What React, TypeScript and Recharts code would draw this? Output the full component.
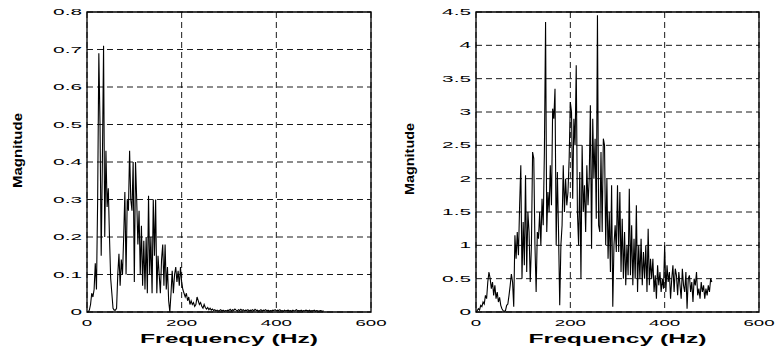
import { LineChart, Line, XAxis, YAxis, CartesianGrid, ReferenceArea } from "recharts";

// FFT bin spacing (Hz) of both spectra
const BIN_HZ = 2.5;

const freqTicks = [0, 200, 400, 600];
const leftMagTicks = [0, 0.1, 0.2, 0.3, 0.4, 0.5, 0.6, 0.7, 0.8];
const rightMagTicks = [0, 0.5, 1, 1.5, 2, 2.5, 3, 3.5, 4, 4.5];

// left spectrum, 0..500 Hz
const leftMag = [
  0, 0, 0.005, 0.02, 0.05, 0.04, 0.06, 0.13, 0.06, 0.3,
  0.69, 0.5, 0.15, 0.4, 0.71, 0.2, 0.43, 0.28, 0.33, 0.2,
  0.09, 0.05, 0.01, 0.005, 0.005, 0.01, 0.1, 0.155, 0.07, 0.14,
  0.1, 0.2, 0.32, 0.1, 0.3, 0.27, 0.43, 0.3, 0.27, 0.4,
  0.08, 0.4, 0.3, 0.18, 0.27, 0.1, 0.23, 0.07, 0.19, 0.06,
  0.2, 0.05, 0.31, 0.1, 0.2, 0.05, 0.3, 0.15, 0.3, 0.05,
  0.15, 0.1, 0.05, 0.14, 0.18, 0.07, 0.18, 0.06, 0.12, 0.03,
  0.0, 0.05, 0.11, 0.05, 0.1, 0.12, 0.08, 0.11, 0.07, 0.12,
  0.08, 0.06, 0.05, 0.04, 0.05, 0.03, 0.04, 0.02, 0.03, 0.02,
  0.025, 0.015, 0.02, 0.04, 0.03, 0.02, 0.025, 0.015, 0.01, 0.02,
  0.012, 0.008, 0.012, 0.006, 0.01, 0.005, 0.008, 0.004, 0.006, 0.003,
  0.005, 0.003, 0.004, 0.006, 0.003, 0.005, 0.002, 0.004, 0.003, 0.005,
  0.004, 0.007, 0.003, 0.006, 0.004, 0.008, 0.005, 0.003, 0.006, 0.004,
  0.007, 0.004, 0.006, 0.003, 0.005, 0.004, 0.006, 0.003, 0.005, 0.004,
  0.006, 0.003, 0.007, 0.004, 0.005, 0.002, 0.004, 0.006, 0.003, 0.005,
  0.004, 0.006, 0.003, 0.005, 0.002, 0.004, 0.003, 0.005, 0.004, 0.006,
  0.003, 0.005, 0.004, 0.006, 0.003, 0.004, 0.002, 0.005, 0.003, 0.004,
  0.005, 0.003, 0.004, 0.002, 0.005, 0.003, 0.004, 0.006, 0.003, 0.004,
  0.003, 0.005, 0.002, 0.004, 0.003, 0.005, 0.004, 0.003, 0.005, 0.002,
  0.004, 0.003, 0.005, 0.002, 0.004, 0.003, 0.002, 0.004, 0.003, 0.002,
  0.003,
];

// right spectrum, 0..500 Hz
const rightMag = [
  0, 0.02, 0.05, 0.03, 0.1, 0.08, 0.15, 0.12, 0.25, 0.2,
  0.45, 0.6, 0.5, 0.35, 0.45, 0.25, 0.4, 0.2, 0.3, 0.15,
  0.22, 0.1, 0.05, 0.02, 0.01, 0.02, 0.1, 0.12, 0.25, 0.4,
  0.57, 0.45, 0.08, 1.15, 0.8, 1.2, 0.85, 1.6, 2.2, 0.5,
  1.35, 0.7, 2.05, 0.6, 1.5, 1.2, 0.45, 1.0, 2.4, 2.3,
  1.0, 0.3, 1.2, 1.1, 1.5, 1.0, 1.7, 1.3, 2.4, 4.35,
  1.2, 1.8, 1.5, 2.2, 1.6, 3.05, 2.9, 3.35, 1.0, 2.1,
  1.2, 0.1, 1.0, 1.3, 2.2, 1.5, 2.0, 1.6, 1.8, 2.3,
  3.15, 3.0, 1.7, 2.9, 2.5, 3.7, 1.5, 1.0, 2.1, 0.5,
  2.5, 1.5, 1.9, 1.2, 2.2, 1.6, 2.0, 3.1, 0.95, 2.9,
  2.0, 2.6, 1.4, 4.45, 1.3, 1.2, 2.4, 1.2, 2.6, 2.5,
  1.0, 2.0, 0.8, 1.5, 0.6, 1.9, 0.08, 1.0, 1.3, 0.9,
  1.9, 0.9, 1.8, 0.6, 1.4, 0.5, 1.2, 0.4, 1.0, 0.55,
  1.85, 0.55, 1.3, 0.4, 1.1, 0.5, 1.6, 0.3, 1.0, 0.5,
  1.1, 0.4, 0.9, 0.5, 1.0, 0.3, 1.25, 0.4, 0.8, 0.5,
  0.8, 0.3, 0.55, 0.2, 0.7, 0.4, 0.6, 0.3, 0.5, 0.35,
  1.0, 0.3, 0.7, 0.45, 0.6, 0.2, 0.5, 0.7, 0.3, 0.65,
  0.55, 0.25, 0.6, 0.4, 0.2, 0.65, 0.4, 0.3, 0.6, 0.05,
  0.5, 0.55, 0.3, 0.45, 0.15, 0.5, 0.4, 0.6, 0.25, 0.35,
  0.2, 0.45, 0.3, 0.4, 0.2, 0.35, 0.25, 0.4, 0.3, 0.5,
  0.45,
];

const FONT = "'Liberation Sans', Arial, Helvetica, sans-serif";

const toRows = (mags: number[]) => mags.map((m, i) => ({ freq: i * BIN_HZ, mag: m }));

// the original figure is squashed vertically, so the glyphs are stretched sideways
const YTick = (props: any) => {
  const { x, y, payload } = props;
  return (
    <g transform={`translate(${x - 5},${y + 3})`}>
      <text transform="scale(2.45,1)" textAnchor="end" fontSize={8.5} fontFamily={FONT} fill="#000">
        {payload.value}
      </text>
    </g>
  );
};

const XTick = (props: any) => {
  const { x, y, payload } = props;
  return (
    <g transform={`translate(${x},${y + 14})`}>
      <text transform="scale(2.2,1)" textAnchor="middle" fontSize={8.5} fontFamily={FONT} fill="#000">
        {payload.value}
      </text>
    </g>
  );
};

type PanelProps = {
  mags: number[];
  ticks: number[];
  yMax: number;
  width: number;
  axisWidth: number;
  rightPad: number;
};

const SpectrumPanel = ({ mags, ticks, yMax, width, axisWidth, rightPad }: PanelProps) => (
  <LineChart
    width={width}
    height={349}
    data={toRows(mags)}
    margin={{ top: 12, right: rightPad, bottom: 0, left: 0 }}
  >
    <CartesianGrid stroke="#000" strokeWidth={0.9} strokeDasharray="6 4" />
    <XAxis
      dataKey="freq"
      type="number"
      domain={[0, 600]}
      ticks={freqTicks}
      height={37}
      axisLine={false}
      tickLine={false}
      tickSize={0}
      tickMargin={0}
      tick={<XTick />}
      interval={0}
    />
    <YAxis
      type="number"
      domain={[0, yMax]}
      ticks={ticks}
      width={axisWidth}
      axisLine={false}
      tickLine={false}
      tickSize={0}
      tickMargin={0}
      tick={<YTick />}
      interval={0}
    />
    <Line
      type="linear"
      dataKey="mag"
      stroke="#000"
      strokeWidth={1.1}
      dot={false}
      activeDot={false}
      isAnimationActive={false}
    />
    <ReferenceArea x1={0} x2={600} y1={0} y2={yMax} fill="none" stroke="#000" strokeWidth={1.3} />
  </LineChart>
);

export default function App() {
  return (
    <div style={{ position: "absolute", left: 0, top: 0, width: 777, height: 349, background: "#fff" }}>
      <div style={{ position: "absolute", left: 0, top: 0 }}>
        <SpectrumPanel mags={leftMag} ticks={leftMagTicks} yMax={0.8} width={388} axisWidth={87} rightPad={17} />
      </div>
      <div style={{ position: "absolute", left: 388, top: 0 }}>
        <SpectrumPanel mags={rightMag} ticks={rightMagTicks} yMax={4.5} width={389} axisWidth={88} rightPad={18} />
      </div>
      <svg width={777} height={349} style={{ position: "absolute", left: 0, top: 0, pointerEvents: "none" }}>
        <g fontFamily={FONT} fontWeight="bold" fill="#000">
          <text x={229} y={343} fontSize={12.5} textAnchor="middle" textLength={178} lengthAdjust="spacingAndGlyphs">
            Frequency (Hz)
          </text>
          <text x={617.5} y={343} fontSize={12.5} textAnchor="middle" textLength={178} lengthAdjust="spacingAndGlyphs">
            Frequency (Hz)
          </text>
          <text
            transform="translate(21.5,150.5) rotate(-90)"
            fontSize={13.5}
            textAnchor="middle"
            textLength={75}
            lengthAdjust="spacingAndGlyphs"
          >
            Magnitude
          </text>
          <text
            transform="translate(414,159) rotate(-90)"
            fontSize={13.5}
            textAnchor="middle"
            textLength={72}
            lengthAdjust="spacingAndGlyphs"
          >
            Magnitude
          </text>
        </g>
      </svg>
    </div>
  );
}
